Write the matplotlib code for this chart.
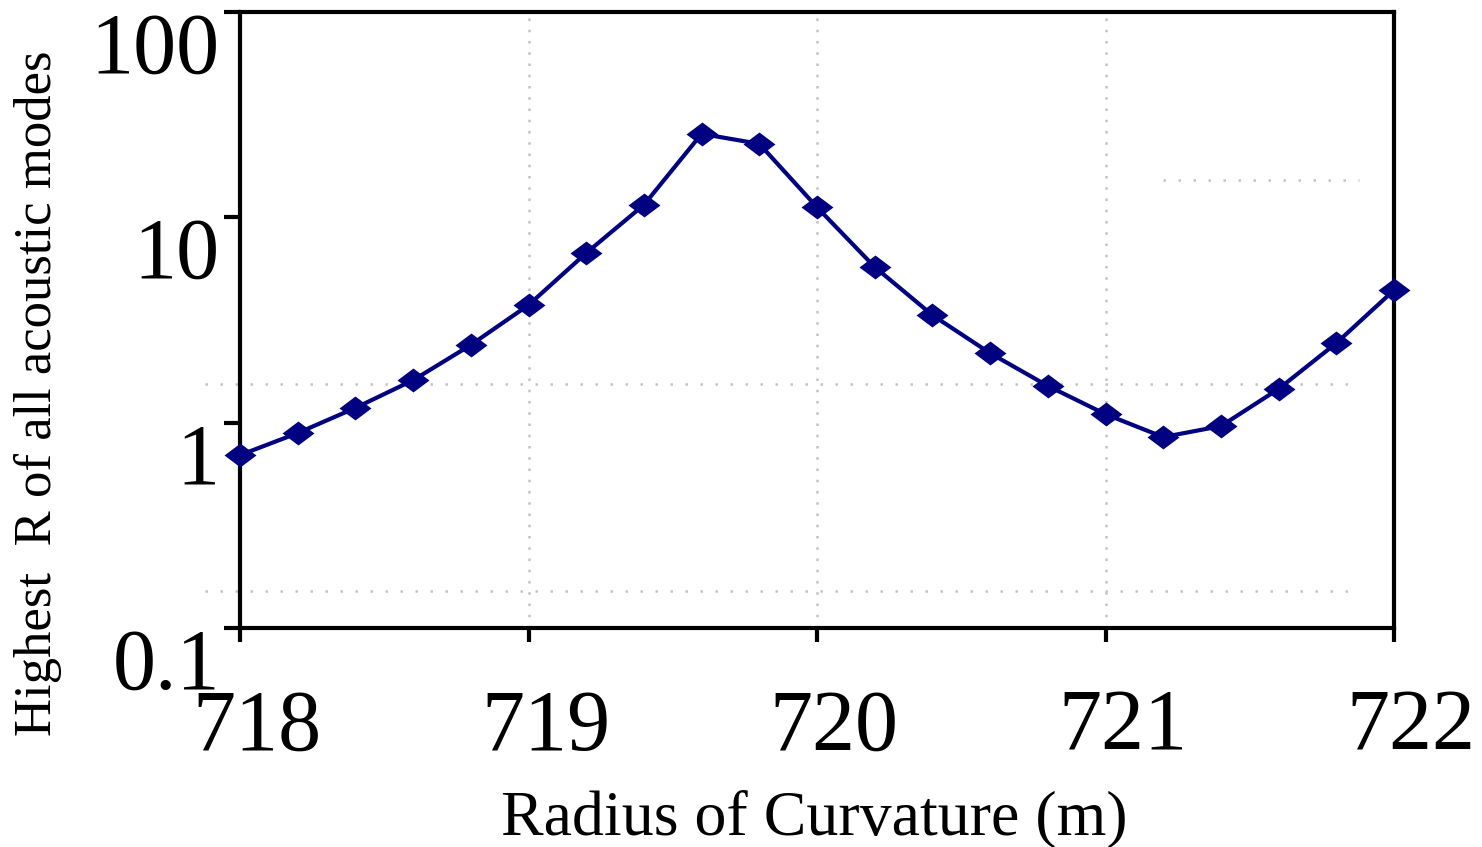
import matplotlib
matplotlib.use("Agg")
import matplotlib.pyplot as plt
import matplotlib.transforms as mtransforms

# radius of curvature (m) and highest R over all acoustic modes
radius = [718.0, 718.2, 718.4, 718.6, 718.8, 719.0, 719.2, 719.4, 719.6, 719.8,
          720.0, 720.2, 720.4, 720.6, 720.8, 721.0, 721.2, 721.4, 721.6, 721.8, 722.0]
highest_r = [0.695, 0.89, 1.18, 1.61, 2.39, 3.74, 6.70, 11.5, 25.5, 22.8,
             11.2, 5.73, 3.34, 2.18, 1.51, 1.10, 0.851, 0.962, 1.46, 2.44, 4.42]

x_ticks = [718, 719, 720, 721, 722]
y_ticks = [0.1, 1, 10, 100]
y_tick_labels = ["0.1", "1", "10", "100"]

# leftover dotted lines from the original sheet (level, x start, x end)
h_lines = [(0.151, 717.88, 721.88), (1.54, 717.88, 721.88), (15.2, 721.2, 721.88)]

plt.rcParams["font.family"] = ["Liberation Serif", "DejaVu Serif"]

fig = plt.figure(figsize=(14.82, 8.47), dpi=100)
ax = fig.add_axes([240 / 1482, 1 - 628 / 847, 1154 / 1482, 616 / 847])

# diamond squashed a bit vertically
diamond = [(-1, 0), (0, 0.75), (1, 0), (0, -0.75), (-1, 0)]

grid_color = "#c4c4c4"
for xv in x_ticks[1:-1]:
    ax.axvline(xv, color=grid_color, lw=1.8, ls=(0, (1, 3.5)), zorder=1)
for level, x0, x1 in h_lines:
    ax.hlines(level, x0, x1, color=grid_color, lw=1.8, ls=(0, (1, 5)),
              clip_on=False, zorder=1)

ax.plot(radius, highest_r, color="#000080", lw=3, marker=diamond,
        markersize=23, markeredgewidth=0, zorder=3, clip_on=False)

ax.set_yscale("log")
ax.set_xlim(718, 722)
ax.set_ylim(0.1, 100)
ax.set_xticks(x_ticks)
ax.set_xticklabels([str(v) for v in x_ticks])
ax.set_yticks(y_ticks)
ax.set_yticklabels(y_tick_labels)
ax.yaxis.set_minor_locator(matplotlib.ticker.NullLocator())

for s in ax.spines.values():
    s.set_linewidth(3)
ax.tick_params(axis="both", labelsize=62, width=3, direction="out")
ax.tick_params(axis="x", length=10, pad=34)
ax.tick_params(axis="y", length=11.5, pad=3)

for lab in ax.get_yticklabels():
    lab.set_verticalalignment("top")
offset = mtransforms.ScaledTranslation(17 / 100, 0, fig.dpi_scale_trans)
for lab in ax.get_xticklabels():
    lab.set_transform(lab.get_transform() + offset)

fig.text(814 / 1482, 1 - 834 / 847, "Radius of Curvature (m)", fontsize=46,
         ha="center", va="baseline")
fig.text(38 / 1482, 1 - 393 / 847, "Highest  R of all acoustic modes", fontsize=38,
         rotation=90, ha="center", va="center")

fig.savefig("out.png", dpi=100)
